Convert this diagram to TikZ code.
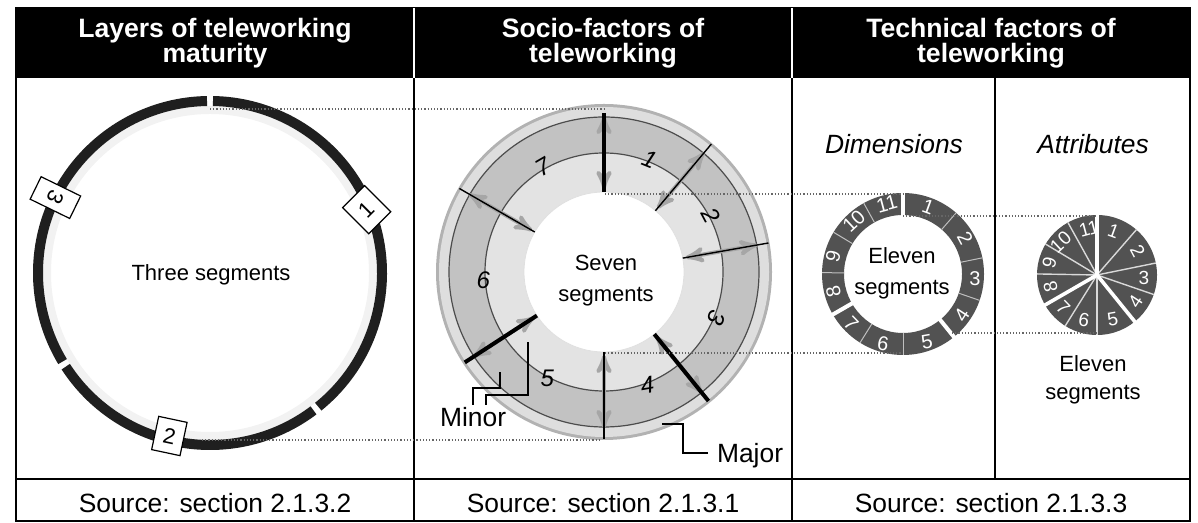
\documentclass[tikz,border=0pt]{standalone}
\usepackage{fontspec}
\setmainfont{Liberation Sans}
\usepackage{tikz}
\usetikzlibrary{arrows}

\begin{document}
\begin{tikzpicture}[x=0.5pt,y=0.5pt,
		hdr/.style={text=white,font=\bfseries\fontsize{13.3}{12.5}\selectfont,align=center},
		src/.style={font=\fontsize{13.2}{15}\selectfont},
		ital/.style={font=\itshape\fontsize{13.2}{15}\selectfont},
		mid/.style={font=\fontsize{11}{15.5}\selectfont,align=center,inner sep=0pt},
		lbl/.style={draw,fill=white,line width=0.6pt,inner sep=0pt,minimum width=14.5pt,minimum height=17pt,font=\fontsize{11}{13}\selectfont},
		socnum/.style={font=\itshape\fontsize{12}{14}\selectfont,inner sep=0pt},
		wnum/.style={text=white,font=\fontsize{10}{12}\selectfont,inner sep=0pt},
		dotline/.style={black!60,densely dotted,line width=0.6pt},
		divarrow/.style={<->,>=stealth',black!35,line width=2pt},
		majorcut/.style={line width=2pt},
		minorcut/.style={line width=0.7pt},
		brk/.style={line width=0.6pt}]
		\useasboundingbox (0,0) rectangle (1198,523);
		\fill[black] (16,445) rectangle (1190,515);
		\draw[line width=1.1pt] (16,2) rectangle (1190,515);
		\draw[line width=1pt] (16,44) -- (1190,44);
		\draw[line width=1pt] (414,2) -- (414,445);
		\draw[line width=1pt] (792,2) -- (792,445);
		\draw[line width=1pt] (995,44) -- (995,445);
		\draw[white,line width=0.8pt] (414,445) -- (414,515);
		\draw[white,line width=0.8pt] (792,445) -- (792,515);
		\node[hdr] (h1) at (215,480) {Layers of teleworking\\maturity};
		\node[hdr] (h2) at (603,480) {Socio-factors of\\teleworking};
		\node[hdr] (h3) at (991,480) {Technical factors of\\teleworking};
		\node[src] (src1) at (215,20) {Source: section 2.1.3.2};
		\node[src] (src2) at (603,20) {Source: section 2.1.3.1};
		\node[src] (src3) at (991,20) {Source: section 2.1.3.3};
		\coordinate (lc) at (210,250);
		\draw[black!5,line width=4pt] (lc) circle (163);
		\foreach \a/\b in {91/211,213/307,309/449}
			\draw[black!88,line width=5pt] ([shift={(\a:172)}]lc) arc (\a:\b:172);
		\node[lbl,rotate=45,minimum width=15.5pt,minimum height=18.5pt] (l1) at ([shift={(22:169)}]lc) {1};
		\node[lbl,rotate=-12] (l2) at ([shift={(256:168)}]lc) {2};
		\node[lbl,rotate=-116,minimum width=12.5pt,minimum height=22pt] (l3) at ([shift={(154:172)}]lc) {3};
		\node[mid] (three) at (211,248) {Three segments};
		\coordinate (sc) at (604,251);
		\fill[black!30] (sc) circle (168);
		\fill[black!13] (sc) circle (165);
		\filldraw[fill=black!24,draw=black!70,line width=0.6pt] (sc) circle (155);
		\filldraw[fill=black!11,draw=black!70,line width=0.6pt] (sc) circle (119);
		\filldraw[fill=white,draw=black!12] (sc) circle (80);
		\foreach \a in {90,50,10,-51,-90,213,150}
			\draw[divarrow] ([shift={(\a:83)}]sc) -- ([shift={(\a:156)}]sc);
		\foreach \a in {50,10,-90,150}
			\draw[minorcut] ([shift={(\a:80)}]sc) -- ([shift={(\a:167)}]sc);
		\foreach \a/\r in {90/159,-51/166,213/166}
			\draw[majorcut] ([shift={(\a:80)}]sc) -- ([shift={(\a:\r)}]sc);
		\foreach \a/\t/\r in {68/1/-22,28/2/-62,-22/3/-112,-69/4/10,242/5/0,184/6/0,120/7/30}
			\node[socnum,rotate=\r] (s\t) at ([shift={(\a:121)}]sc) {\t};
		\node[mid] (seven) at (606,242) {Seven\\segments};
		\node[src,anchor=base west] (minor) at (433,96) {Minor};
		\node[src,anchor=base west] (major) at (710,60) {Major};
		\coordinate (mn1) at (473,118);
		\coordinate (mn2) at (486,118);
		\coordinate (mj) at (708,70);
		\draw[brk] (mn1) |- (500,135) -- (500,151);
		\draw[brk] (mn2) |- (528,128) -- (528,181);
		\draw[brk] (mj) -- (683,70) |- (662,99);
		\coordinate (dc) at (903,249);
		\fill[black!68,even odd rule] (dc) circle (81) (dc) circle (59);
		\foreach \a in {49,11.5,-19,-90,-122,-181,-211,-241}
			\draw[black!25,line width=0.5pt] ([shift={(\a:59)}]dc) -- ([shift={(\a:81)}]dc);
		\foreach \a in {90,-51,210}
			\draw[white,line width=2pt] ([shift={(\a:58)}]dc) -- ([shift={(\a:84)}]dc);
		\foreach \a/\t/\r in {69.5/1/-20,30.25/2/-62,-3.75/3/0,-35/4/57,-70.5/5/10,-106/6/-10,-136/7/-46,-165.5/8/103,-194/9/75,-227/10/43,-257/11/15}
			\node[wnum,rotate=\r] (d\t) at ([shift={(\a:72)}]dc) {\t};
		\node[mid] (elevenA) at (902,250) {Eleven\\segments};
		\node[ital] (dims) at (894,379) {Dimensions};
		\node[ital] (attrs) at (1093,379) {Attributes};
		\coordinate (pc) at (1097,248);
		\fill[black!68] (pc) circle (60);
		\foreach \a in {49,11.5,-19,-90,-122,-181,-211,-241}
			\draw[black!15,line width=0.7pt] (pc) -- ([shift={(\a:60)}]pc);
		\foreach \a in {90,-51,210}
			\draw[white,line width=1.8pt] (pc) -- ([shift={(\a:61)}]pc);
		\foreach \a/\t/\r/\d in {69.5/1/-20/47,30.25/2/-62/47,-3.75/3/0/47,-35/4/57/47,-70.5/5/10/47,-106/6/-10/47,-136/7/-46/47,-165.5/8/103/48,-194/9/75/49,-222/10/43/49,-260/11/15/47}
			\node[wnum,font=\fontsize{9.5}{11}\selectfont,rotate=\r] (p\t) at ([shift={(\a:\d)}]pc) {\t};
		\node[mid,font=\fontsize{11}{14}\selectfont] (elevenB) at (1093,143) {Eleven\\segments};
		\coordinate (lt) at (210,414);
		\coordinate (st) at (605,414);
		\coordinate (lb) at (202,83);
		\coordinate (sb) at (600,83);
		\coordinate (sit) at (605,329);
		\coordinate (dt) at (903,329);
		\coordinate (sib) at (605,170);
		\coordinate (db) at (901,170);
		\coordinate (dit) at (903,307);
		\coordinate (pietop) at (1097,307);
		\coordinate (dgap) at (952,190);
		\coordinate (piebot) at (1097,190);
		\draw[dotline] (lt) -- (st);
		\draw[dotline] (lb) -- (sb);
		\draw[dotline] (sit) -- (dt);
		\draw[dotline] (sib) -- (db);
		\draw[dotline] (dit) -- (pietop);
		\draw[dotline] (dgap) -- (piebot);
	\end{tikzpicture}
\end{document}
